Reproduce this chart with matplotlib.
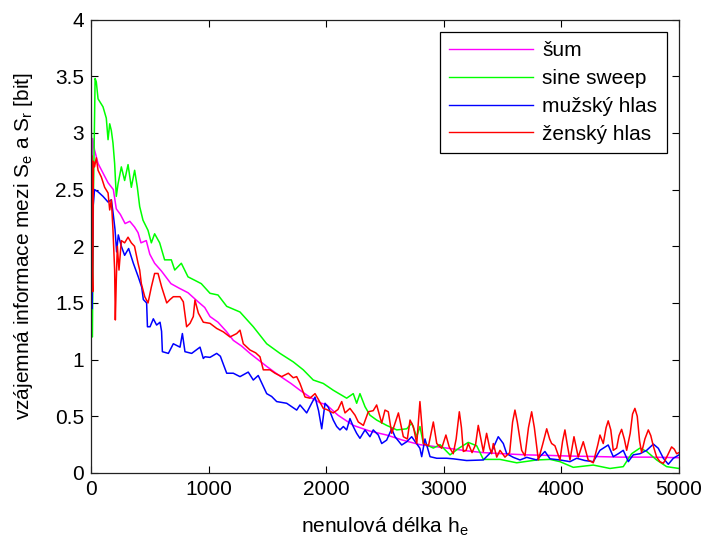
import matplotlib
matplotlib.use("Agg")
import matplotlib.pyplot as plt
from matplotlib.ticker import FuncFormatter, MultipleLocator

plt.rcParams['font.family'] = ['Liberation Sans', 'DejaVu Sans']
plt.rcParams['mathtext.fontset'] = 'custom'
plt.rcParams['mathtext.rm'] = 'Liberation Sans'
plt.rcParams['mathtext.it'] = 'Liberation Sans'

# ---- data ----
x_sum = [0, 8, 15, 30, 60, 100, 145, 190, 215, 250, 290, 330, 370, 400, 425, 470, 500, 541, 600,
         680, 750, 825, 900, 967, 1012, 1080, 1150, 1210, 1280, 1352, 1420, 1494, 1560, 1635, 1700,
         1777, 1860, 1947, 2004, 2100, 2230, 2370, 2514, 2650, 2797, 3025, 3200, 3335, 3500, 3700,
         3900, 4045, 4300, 4500, 4750, 5000]
y_sum = [3.2, 2.6, 2.95, 2.85, 2.73, 2.65, 2.56, 2.50, 2.33, 2.28, 2.20, 2.22, 2.17, 2.12, 2.03, 2.05,
         1.93, 1.85, 1.78, 1.67, 1.63, 1.59, 1.52, 1.46, 1.38, 1.33, 1.25, 1.17, 1.12, 1.055, 1.00,
         0.94, 0.89, 0.835, 0.79, 0.73, 0.67, 0.62, 0.60, 0.51, 0.42, 0.37, 0.335, 0.29, 0.25, 0.22,
         0.195, 0.18, 0.17, 0.16, 0.155, 0.15, 0.145, 0.14, 0.14, 0.135]

x_sine = [0, 6, 12, 20, 35, 45, 60, 102, 130, 145, 159, 173, 187, 201, 215, 230, 258, 286, 315, 343,
          371, 394, 414, 442, 485, 513, 541, 584, 626, 683, 712, 768, 825, 882, 938, 1012, 1080, 1154,
          1267, 1380, 1494, 1607, 1720, 1805, 1890, 1975, 2060, 2174, 2230, 2259, 2287, 2330, 2372,
          2429, 2514, 2600, 2685, 2727, 2770, 2797, 2826, 2911, 2968, 3053, 3130, 3208, 3280, 3336,
          3478, 3620, 3790, 3903, 3988, 4101, 4271, 4413, 4526, 4597, 4668, 4725, 4810, 4895, 5000]
y_sine = [3.6, 2.5, 1.2, 2.4, 3.48, 3.45, 3.30, 3.23, 3.13, 2.94, 3.08, 3.02, 2.91, 2.73, 2.44, 2.55,
          2.70, 2.58, 2.72, 2.52, 2.67, 2.52, 2.35, 2.23, 2.14, 2.03, 2.11, 2.03, 1.88, 1.88, 1.79,
          1.85, 1.73, 1.70, 1.67, 1.585, 1.57, 1.47, 1.42, 1.29, 1.14, 1.055, 0.98, 0.91, 0.82, 0.79,
          0.73, 0.66, 0.70, 0.615, 0.70, 0.585, 0.51, 0.467, 0.42, 0.38, 0.39, 0.44, 0.32, 0.41, 0.26,
          0.22, 0.25, 0.16, 0.22, 0.27, 0.24, 0.12, 0.12, 0.09, 0.115, 0.12, 0.10, 0.05, 0.07, 0.04,
          0.056, 0.17, 0.22, 0.19, 0.115, 0.056, 0.04]

x_male = [0, 5, 10, 18, 30, 60, 102, 145, 173, 187, 204, 218, 232, 258, 286, 320, 360, 402, 431, 445,
          473, 480, 502, 530, 558, 587, 600, 607, 658, 700, 757, 777, 799, 856, 927, 955, 969, 1012,
          1069, 1100, 1125, 1154, 1210, 1267, 1337, 1380, 1422, 1494, 1536, 1579, 1664, 1749, 1777,
          1834, 1876, 1905, 1935, 1962, 1990, 2018, 2060, 2089, 2117, 2146, 2174, 2202, 2230, 2259,
          2287, 2330, 2372, 2400, 2443, 2472, 2514, 2557, 2585, 2642, 2685, 2727, 2797, 2812, 2840,
          2883, 2940, 3025, 3081, 3194, 3336, 3407, 3463, 3506, 3535, 3591, 3648, 3705, 3790, 3860,
          3903, 3988, 4073, 4130, 4200, 4271, 4328, 4398, 4441, 4484, 4526, 4569, 4611, 4668, 4725,
          4782, 4824, 4867, 4909, 4952, 5000]
y_male = [2.25, 2.55, 1.45, 2.35, 2.50, 2.48, 2.44, 2.39, 2.41, 2.30, 2.15, 1.95, 2.10, 2.00, 1.92,
          1.98, 1.85, 1.73, 1.64, 1.53, 1.50, 1.29, 1.29, 1.36, 1.305, 1.33, 1.25, 1.07, 1.055, 1.14,
          1.11, 1.23, 1.07, 1.055, 1.11, 1.01, 1.025, 1.02, 1.055, 1.03, 0.96, 0.88, 0.88, 0.85, 0.89,
          0.82, 0.86, 0.70, 0.675, 0.63, 0.615, 0.555, 0.60, 0.53, 0.615, 0.67, 0.55, 0.39, 0.615,
          0.58, 0.467, 0.41, 0.38, 0.41, 0.38, 0.48, 0.41, 0.35, 0.306, 0.38, 0.32, 0.38, 0.335, 0.26,
          0.29, 0.39, 0.32, 0.247, 0.276, 0.32, 0.218, 0.144, 0.30, 0.144, 0.13, 0.13, 0.125, 0.11,
          0.115, 0.19, 0.32, 0.26, 0.17, 0.138, 0.115, 0.138, 0.115, 0.19, 0.125, 0.115, 0.10, 0.13,
          0.11, 0.10, 0.20, 0.247, 0.144, 0.17, 0.20, 0.10, 0.16, 0.17, 0.20, 0.255, 0.218, 0.13,
          0.077, 0.13, 0.16]

x_female = [0, 5, 10, 15, 20, 30, 45, 60, 88, 116, 145, 159, 173, 187, 201, 207, 215, 224, 238, 258,
            286, 315, 343, 370, 400, 414, 428, 457, 485, 513, 541, 570, 601, 644, 672, 700, 757, 785,
            813, 842, 870, 884, 913, 955, 1012, 1069, 1125, 1182, 1239, 1267, 1295, 1352, 1400, 1437,
            1465, 1522, 1565, 1621, 1678, 1720, 1749, 1777, 1820, 1862, 1905, 1933, 1975, 2004, 2060,
            2100, 2132, 2160, 2202, 2245, 2273, 2316, 2358, 2400, 2429, 2472, 2500, 2528, 2557, 2614,
            2656, 2690, 2713, 2741, 2770, 2797, 2826, 2870, 2911, 2940, 2982, 3018, 3046, 3080, 3105,
            3132, 3150, 3166, 3190, 3208, 3240, 3270, 3293, 3315, 3336, 3364, 3390, 3407, 3421, 3450,
            3478, 3520, 3560, 3585, 3605, 3625, 3662, 3690, 3720, 3747, 3770, 3804, 3840, 3875, 3900,
            3917, 3945, 3988, 4010, 4030, 4050, 4073, 4107, 4143, 4186, 4228, 4271, 4310, 4328, 4356,
            4380, 4398, 4420, 4441, 4470, 4490, 4512, 4535, 4555, 4585, 4605, 4625, 4645, 4665, 4682,
            4710, 4739, 4760, 4781, 4810, 4838, 4867, 4900, 4937, 4960, 4980, 5000]
y_female = [2.4, 2.8, 1.8, 1.6, 2.75, 2.7, 2.78, 2.67, 2.61, 2.52, 2.47, 2.32, 2.41, 2.14, 1.79, 1.35,
            1.70, 2.00, 1.79, 2.05, 2.03, 2.08, 2.03, 2.00, 1.85, 1.79, 1.67, 1.555, 1.50, 1.64, 1.76,
            1.76, 1.64, 1.50, 1.53, 1.555, 1.555, 1.51, 1.29, 1.32, 1.38, 1.525, 1.41, 1.33, 1.32,
            1.275, 1.245, 1.20, 1.23, 1.26, 1.14, 1.085, 1.06, 1.025, 0.91, 0.91, 0.88, 0.85, 0.88,
            0.84, 0.85, 0.79, 0.67, 0.66, 0.70, 0.65, 0.57, 0.56, 0.53, 0.56, 0.63, 0.53, 0.57, 0.51,
            0.45, 0.42, 0.54, 0.55, 0.60, 0.44, 0.555, 0.54, 0.35, 0.53, 0.32, 0.30, 0.467, 0.41, 0.26,
            0.63, 0.26, 0.24, 0.45, 0.26, 0.218, 0.335, 0.23, 0.17, 0.30, 0.54, 0.40, 0.19, 0.20, 0.26,
            0.18, 0.25, 0.42, 0.30, 0.19, 0.35, 0.22, 0.17, 0.26, 0.14, 0.20, 0.14, 0.18, 0.45, 0.555,
            0.45, 0.20, 0.15, 0.40, 0.54, 0.40, 0.115, 0.25, 0.39, 0.30, 0.26, 0.24, 0.115, 0.28, 0.38,
            0.25, 0.115, 0.32, 0.14, 0.276, 0.115, 0.09, 0.25, 0.335, 0.26, 0.40, 0.46, 0.38, 0.20,
            0.22, 0.33, 0.385, 0.30, 0.20, 0.35, 0.52, 0.57, 0.50, 0.28, 0.18, 0.30, 0.38, 0.33, 0.24,
            0.14, 0.10, 0.085, 0.15, 0.23, 0.21, 0.17, 0.18]

labels = ['šum', 'sine sweep', 'mužský hlas', 'ženský hlas']
colors = ['#ff00ff', '#00ff00', '#0000ff', '#ff0000']
x_ticks = [0, 1000, 2000, 3000, 4000, 5000]

fig = plt.figure(figsize=(7.05, 5.41), dpi=100)
ax = fig.add_axes([91 / 705, 68 / 541, 588 / 705, 453.5 / 541])

series = [(x_sum, y_sum), (x_sine, y_sine), (x_male, y_male), (x_female, y_female)]
for (xs, ys), lab, c in zip(series, labels, colors):
    ax.plot(xs, ys, color=c, lw=1.1, label=lab)

ax.set_xlim(0, 5000)
ax.set_ylim(0, 4)
ax.set_xticks(x_ticks)
ax.yaxis.set_major_locator(MultipleLocator(0.5))
ax.yaxis.set_major_formatter(FuncFormatter(lambda v, p: f'{v:g}'))
ax.tick_params(direction='in', length=5, width=0.8, labelsize=15, top=True, right=True,
               pad=5, colors='black')
for s in ax.spines.values():
    s.set_linewidth(0.9)
    s.set_color('#222222')

ax.set_xlabel('nenulová délka h$_\\mathregular{e}$', fontsize=15, labelpad=12)
ax.set_ylabel('vzájemná informace mezi S$_\\mathregular{e}$ a S$_\\mathregular{r}$ [bit]',
              fontsize=15, labelpad=14)

leg = ax.legend(loc='upper right', fontsize=15, fancybox=False, framealpha=1,
                edgecolor='black', handlelength=4.0, handletextpad=0.45,
                labelspacing=0.42, borderpad=0.45, borderaxespad=0.6)
leg.get_frame().set_linewidth(0.9)
for h in leg.get_lines():
    h.set_linewidth(1.0)

fig.savefig('out.png', dpi=100)
